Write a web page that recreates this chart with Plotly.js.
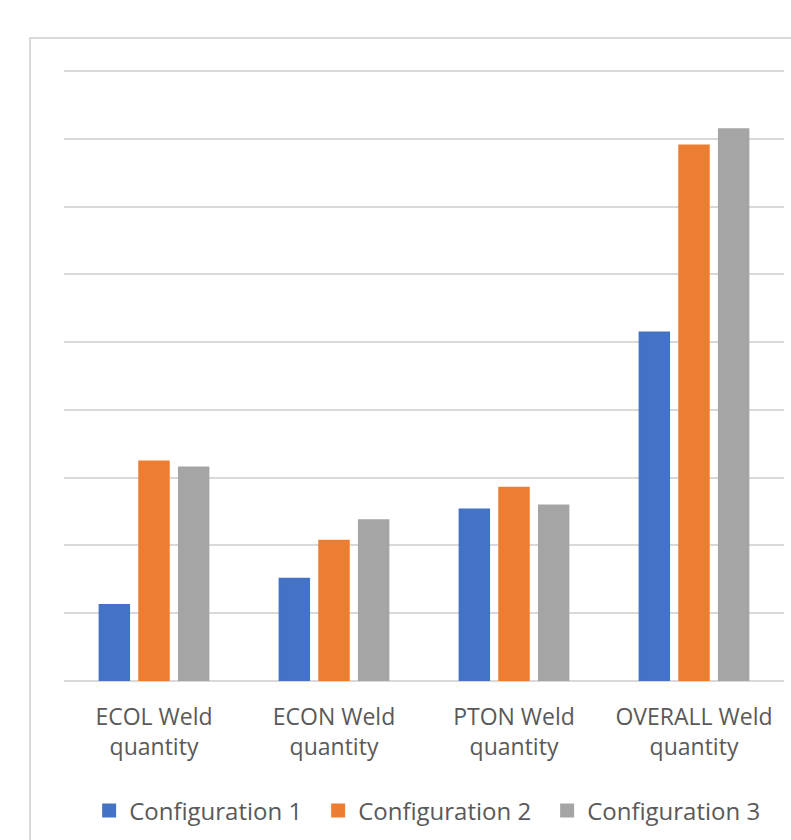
<!DOCTYPE html>
<html>
<head>
<meta charset="utf-8">
<script src="https://cdn.plot.ly/plotly-3.0.1.min.js"></script>
<style>
html, body { margin: 0; padding: 0; background: #ffffff; }
#chart { width: 791px; height: 840px; }
</style>
</head>
<body>
<div id="chart"></div>
<script>
const categories = [
  "ECOL Weld<br>quantity",
  "ECON Weld<br>quantity",
  "PTON Weld<br>quantity",
  "OVERALL Weld<br>quantity"
];
const seriesNames = ["Configuration 1", "Configuration 2", "Configuration 3"];
const config1 = [1.12, 1.51, 2.53, 5.14];
const config2 = [3.24, 2.07, 2.85, 7.90];
const config3 = [3.15, 2.37, 2.59, 8.14];
const seriesColors = ["#4472C4", "#ED7D31", "#A5A5A5"];

const seriesValues = [config1, config2, config3];
const traces = seriesValues.map((vals, i) => ({
  type: "bar",
  name: seriesNames[i],
  x: categories,
  y: vals,
  marker: { color: seriesColors[i], line: { width: 2, color: seriesColors[i] } },
  hoverinfo: "skip"
}));

const W = 791, H = 840;
const L = 64, R = 7, T = 69, B = 159;
const pw = W - L - R, ph = H - T - B;
const unitPx = 610 / 9;
const yMax = ph / unitPx;
const px = v => (v - L) / pw;
const py = v => (H - B - v) / ph;

const layout = {
  width: W,
  height: H,
  margin: { l: L, r: R, t: T, b: B, pad: 0 },
  paper_bgcolor: "#ffffff",
  plot_bgcolor: "#ffffff",
  font: { family: "'Open Sans', 'Liberation Sans', sans-serif", color: "#595959", size: 23 },
  barmode: "group",
  bargap: 0.339,
  bargroupgap: 0.257,
  showlegend: true,
  legend: {
    orientation: "h",
    x: 0.512,
    xanchor: "center",
    yref: "container",
    y: (H - 811) / H,
    yanchor: "middle",
    entrywidth: 184,
    font: { size: 24, color: "#595959" },
    itemclick: false,
    itemdoubleclick: false
  },
  xaxis: {
    type: "category",
    showgrid: false,
    showline: false,
    zeroline: false,
    ticks: "outside",
    ticklen: 15,
    tickcolor: "rgba(0,0,0,0)",
    tickfont: { size: 23, color: "#595959" },
    fixedrange: true
  },
  yaxis: {
    range: [0, yMax],
    dtick: 1,
    tick0: 0,
    showticklabels: false,
    ticks: "",
    showgrid: true,
    gridcolor: "#d9d9d9",
    gridwidth: 2,
    zeroline: true,
    zerolinecolor: "#d9d9d9",
    zerolinewidth: 2,
    showline: false,
    fixedrange: true
  },
  shapes: [
    {
      type: "rect",
      xref: "paper", yref: "paper",
      x0: px(30), x1: px(W + 20),
      y0: py(H + 20), y1: py(38),
      line: { color: "#d9d9d9", width: 2 },
      fillcolor: "rgba(0,0,0,0)",
      layer: "below"
    }
  ]
};

Plotly.newPlot("chart", traces, layout, { displayModeBar: false, staticPlot: true });
</script>
</body>
</html>
